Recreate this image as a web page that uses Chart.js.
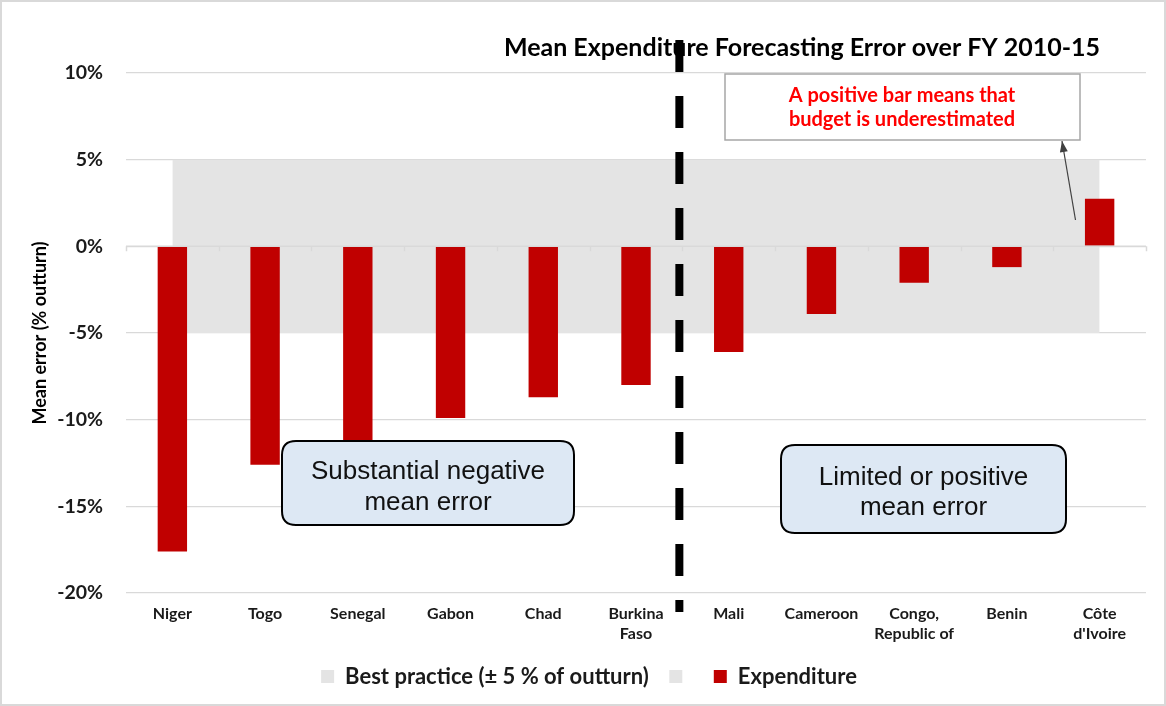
<!DOCTYPE html>
<html>
<head>
<meta charset="utf-8">
<script src="https://cdn.jsdelivr.net/npm/chart.js@4.4.1/dist/chart.umd.min.js"></script>
<style>
html,body{margin:0;padding:0;background:#fff;}
#wrap{width:1166px;height:706px;position:relative;}
canvas{display:block;}
</style>
</head>
<body>
<div id="wrap"><canvas id="c" width="1166" height="706"></canvas></div>
<script>
// ---- Data ----
const categories = ['Niger', 'Togo', 'Senegal', 'Gabon', 'Chad', ['Burkina', 'Faso'], 'Mali', 'Cameroon', ['Congo,', 'Republic of'], 'Benin', ['Côte', "d'Ivoire"]];
const expenditure = [-17.6, -12.6, -11.8, -9.9, -8.7, -8.0, -6.1, -3.9, -2.1, -1.2, 2.75];
const bestPracticeUpper = [5, 5, 5, 5, 5, 5, 5, 5, 5, 5, 5];
const bestPracticeLower = [-5, -5, -5, -5, -5, -5, -5, -5, -5, -5, -5];
const yTickValues = [10, 5, 0, -5, -10, -15, -20];
const legendNames = ['Best practice (± 5 % of outturn)', '', 'Expenditure'];
const chartTitle = 'Mean Expenditure Forecasting Error over FY 2010-15';
const yAxisTitle = 'Mean error (% outturn)';
const noteLines = ['A positive bar means that', 'budget is underestimated'];
const leftBoxLines = ['Substantial negative', 'mean error'];
const rightBoxLines = ['Limited or positive', 'mean error'];

const FONT = 'Lato, "Liberation Sans", sans-serif';
const BOXFONT = '"Liberation Sans", Arial, sans-serif';

function roundRect(ctx, x, y, w, h, r) {
  ctx.beginPath();
  ctx.moveTo(x + r, y);
  ctx.lineTo(x + w - r, y);
  ctx.quadraticCurveTo(x + w, y, x + w, y + r);
  ctx.lineTo(x + w, y + h - r);
  ctx.quadraticCurveTo(x + w, y + h, x + w - r, y + h);
  ctx.lineTo(x + r, y + h);
  ctx.quadraticCurveTo(x, y + h, x, y + h - r);
  ctx.lineTo(x, y + r);
  ctx.quadraticCurveTo(x, y, x + r, y);
  ctx.closePath();
}

const decor = {
  id: 'decor',
  beforeDraw(chart) {
    const ctx = chart.ctx;
    ctx.save();
    ctx.fillStyle = '#ffffff';
    ctx.fillRect(0, 0, chart.width, chart.height);
    ctx.strokeStyle = '#d9d9d9';
    ctx.lineWidth = 2;
    ctx.strokeRect(1, 1, chart.width - 2, chart.height - 2);
    ctx.restore();
  },
  afterDatasetsDraw(chart) {
    const ctx = chart.ctx;
    const xs = chart.scales.x, ys = chart.scales.y;
    const area = chart.chartArea;
    ctx.save();
    // zero axis line with tick marks
    const y0 = ys.getPixelForValue(0);
    ctx.strokeStyle = '#d9d9d9';
    ctx.lineWidth = 1.5;
    ctx.beginPath();
    ctx.moveTo(area.left, y0);
    ctx.lineTo(area.right, y0);
    for (let i = 0; i <= categories.length; i++) {
      const x = Math.round(xs.getPixelForValue(i - 0.5)) + 0.5;
      ctx.moveTo(x, y0);
      ctx.lineTo(x, y0 + 5);
    }
    ctx.stroke();

    // title
    ctx.fillStyle = '#000000';
    ctx.font = 'bold 25px ' + FONT;
    ctx.textAlign = 'center';
    ctx.textBaseline = 'middle';
    ctx.fillText(chartTitle, 802, 48);

    // dashed separator
    const xd = xs.getPixelForValue(5.5) - 3;
    ctx.strokeStyle = '#000000';
    ctx.lineWidth = 8;
    ctx.setLineDash([32, 24]);
    ctx.beginPath();
    ctx.moveTo(xd, 40);
    ctx.lineTo(xd, 612);
    ctx.stroke();
    ctx.setLineDash([]);

    // rounded annotation boxes
    function bubble(x, y, w, h, lines, cy1, gap) {
      roundRect(ctx, x, y, w, h, 14);
      ctx.fillStyle = '#dde8f4';
      ctx.fill();
      ctx.strokeStyle = '#000000';
      ctx.lineWidth = 2;
      ctx.stroke();
      ctx.fillStyle = '#111111';
      ctx.font = '26px ' + BOXFONT;
      ctx.textAlign = 'center';
      ctx.textBaseline = 'middle';
      lines.forEach((t, i) => ctx.fillText(t, x + w / 2, cy1 + i * gap));
    }
    bubble(282, 441, 292, 84, leftBoxLines, 472, 31);
    bubble(781, 445, 285, 88, rightBoxLines, 478, 30);

    // note box
    ctx.fillStyle = '#ffffff';
    ctx.fillRect(725, 74, 355, 66);
    ctx.strokeStyle = '#a6a6a6';
    ctx.lineWidth = 1.5;
    ctx.strokeRect(725, 74, 355, 66);
    ctx.fillStyle = '#ff0000';
    ctx.font = 'bold 20px ' + FONT;
    ctx.textAlign = 'center';
    ctx.textBaseline = 'middle';
    ctx.fillText(noteLines[0], 902, 96);
    ctx.fillText(noteLines[1], 902, 120);

    // arrow
    const tx = 1075.5, ty = 220, hx = 1062, hy = 141;
    ctx.strokeStyle = '#404040';
    ctx.fillStyle = '#404040';
    ctx.lineWidth = 1.2;
    ctx.beginPath();
    ctx.moveTo(tx, ty);
    ctx.lineTo(hx, hy);
    ctx.stroke();
    const ang = Math.atan2(hy - ty, hx - tx);
    ctx.beginPath();
    ctx.moveTo(hx, hy);
    ctx.lineTo(hx - 11 * Math.cos(ang) + 4 * Math.sin(ang), hy - 11 * Math.sin(ang) - 4 * Math.cos(ang));
    ctx.lineTo(hx - 11 * Math.cos(ang) - 4 * Math.sin(ang), hy - 11 * Math.sin(ang) + 4 * Math.cos(ang));
    ctx.closePath();
    ctx.fill();
    ctx.restore();
  }
};

new Chart(document.getElementById('c'), {
  data: {
    labels: categories,
    datasets: [
      {
        type: 'line',
        label: legendNames[0],
        data: bestPracticeUpper,
        fill: 'origin',
        backgroundColor: '#e4e4e4',
        borderColor: '#e4e4e4',
        borderWidth: 0,
        pointRadius: 0,
        tension: 0,
        order: 2
      },
      {
        type: 'line',
        label: legendNames[1],
        data: bestPracticeLower,
        fill: 'origin',
        backgroundColor: '#e4e4e4',
        borderColor: '#e4e4e4',
        borderWidth: 0,
        pointRadius: 0,
        tension: 0,
        order: 3
      },
      {
        type: 'bar',
        label: legendNames[2],
        data: expenditure,
        backgroundColor: '#c00000',
        borderWidth: 0,
        barPercentage: 0.317,
        categoryPercentage: 1,
        order: 1
      }
    ]
  },
  options: {
    responsive: false,
    animation: false,
    devicePixelRatio: 1,
    layout: { padding: { left: 32, right: 20, top: 73, bottom: 8.5 } },
    plugins: {
      tooltip: { enabled: false },
      title: { display: false },
      legend: {
        position: 'bottom',
        labels: {
          boxWidth: 13,
          boxHeight: 13,
          padding: 20.5,
          color: '#1a1a1a',
          font: { family: FONT, size: 22, weight: 'bold' },
          sort: (a, b) => a.datasetIndex - b.datasetIndex
        }
      }
    },
    scales: {
      x: {
        grid: { display: false, drawTicks: false },
        border: { display: false },
        ticks: {
          color: '#1a1a1a',
          font: { family: FONT, size: 16, weight: 'bold', lineHeight: 1.25 },
          padding: 11,
          maxRotation: 0,
          autoSkip: false
        },
        afterFit: (s) => { s.height = 52; }
      },
      y: {
        min: -20,
        max: 10,
        afterBuildTicks: (s) => { s.ticks = yTickValues.map(v => ({ value: v })); },
        grid: { color: '#d9d9d9', lineWidth: 1.3, drawTicks: false },
        border: { display: false },
        ticks: {
          color: '#1a1a1a',
          font: { family: FONT, size: 19.5, weight: 'bold' },
          padding: 23,
          callback: (v) => v + '%'
        },
        title: {
          display: true,
          text: yAxisTitle,
          color: '#000000',
          font: { family: FONT, size: 18, weight: 'bold' },
          padding: { top: -3, bottom: 0 }
        },
        afterFit: (s) => { s.width = 94; }
      }
    }
  },
  plugins: [decor]
});
</script>
</body>
</html>
